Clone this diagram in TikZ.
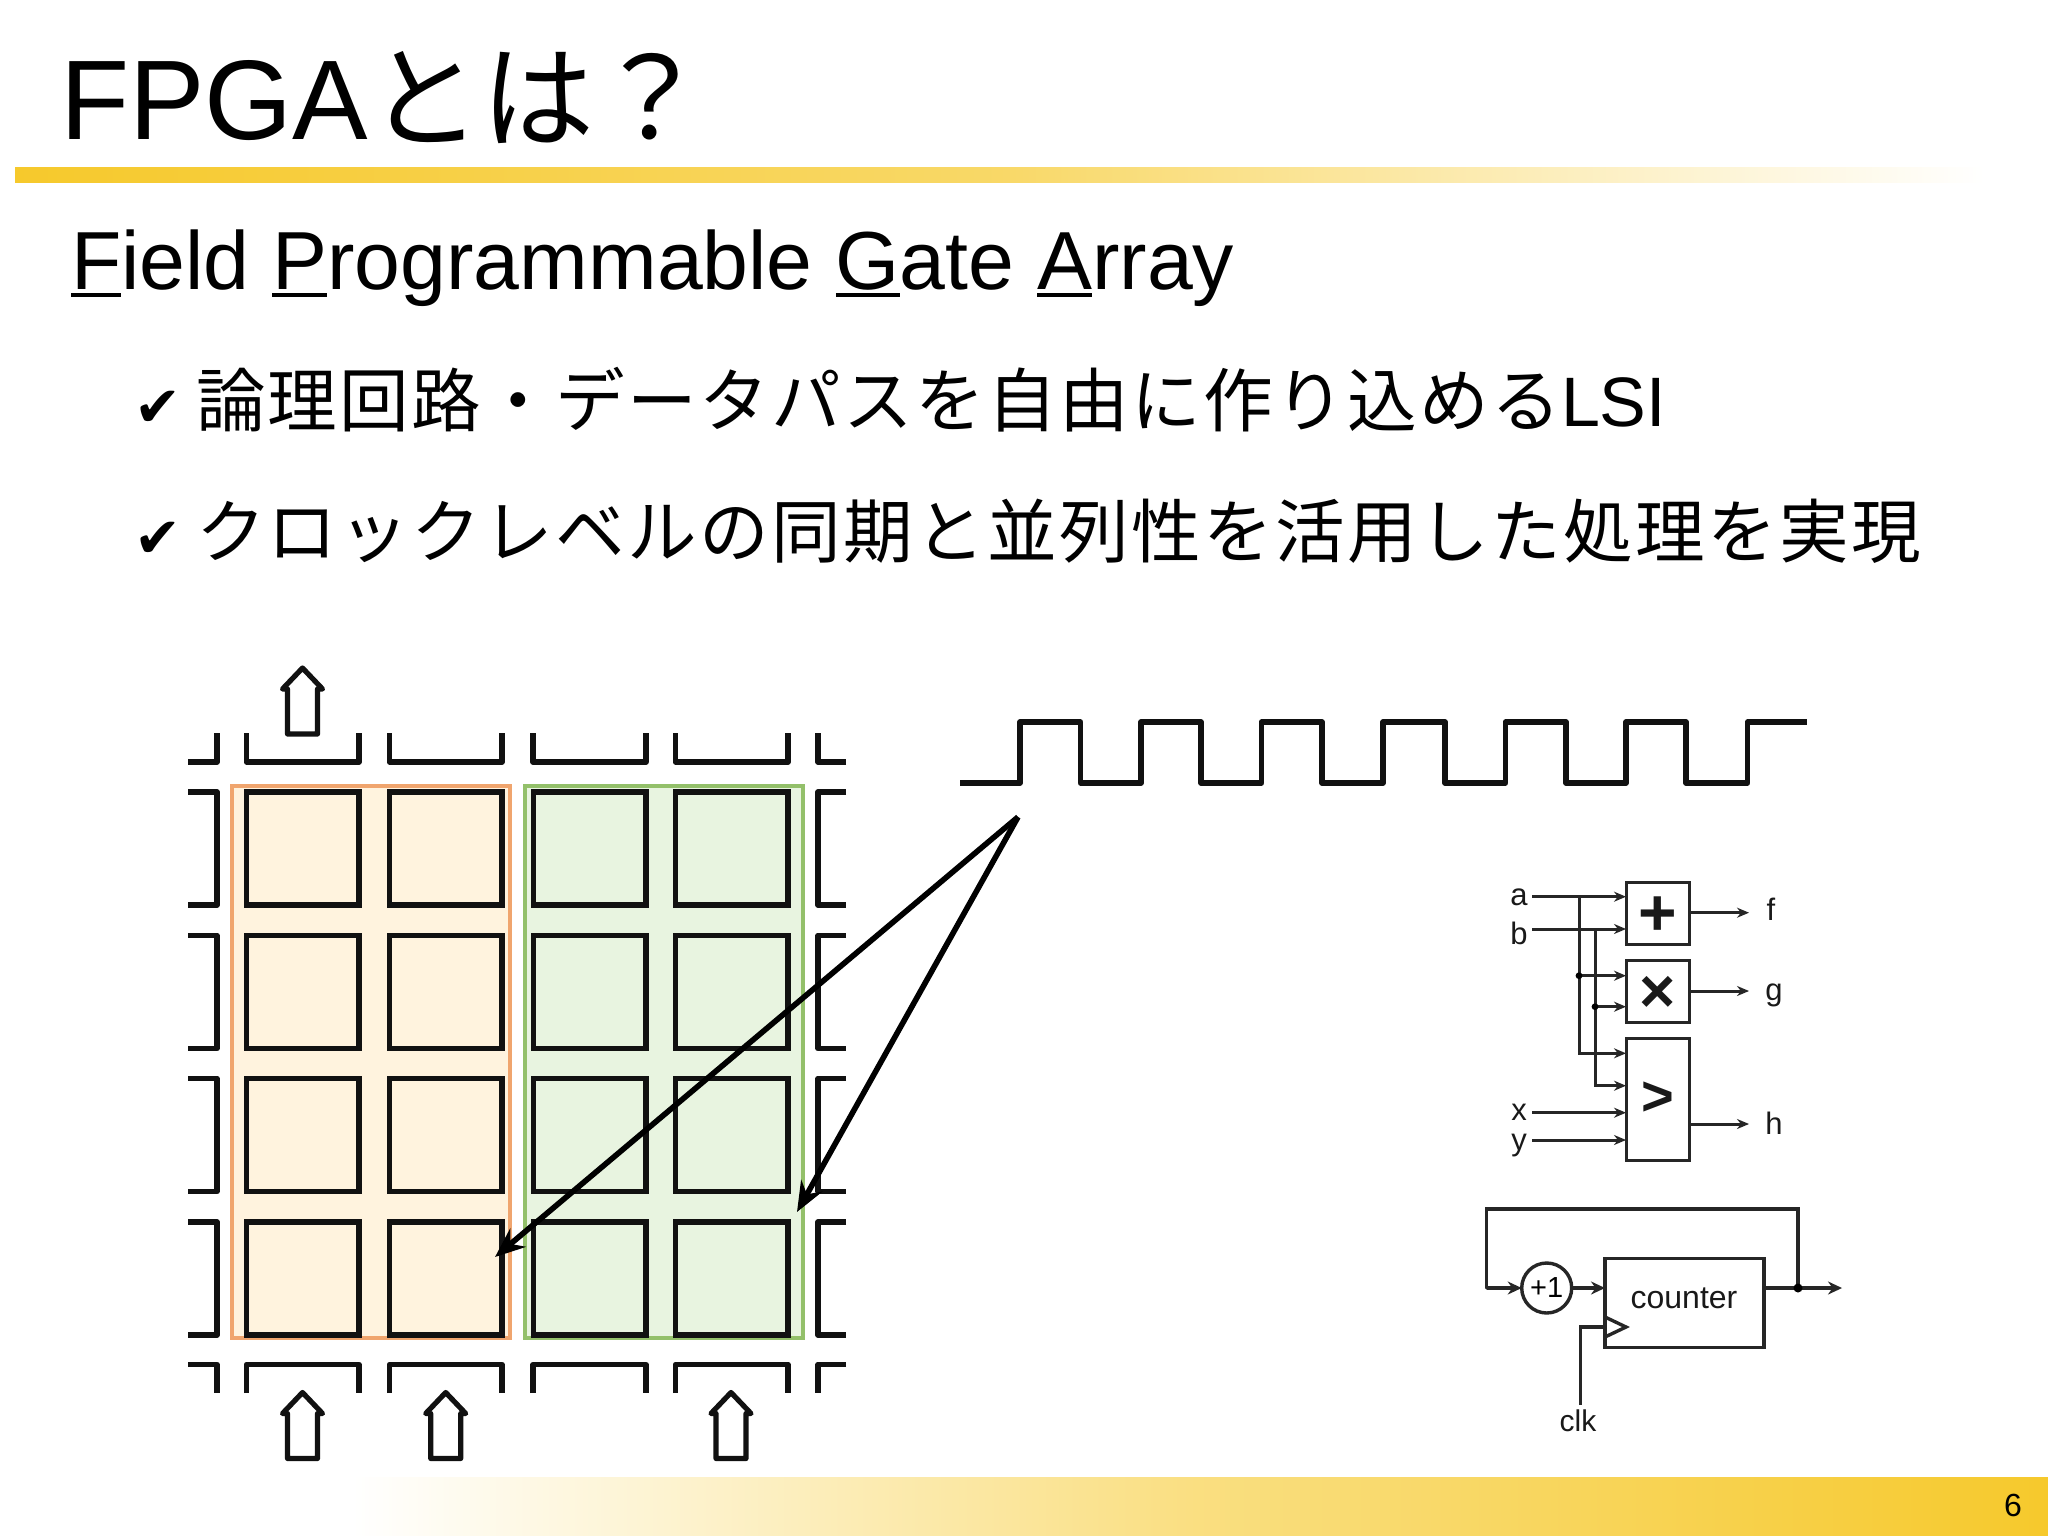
\documentclass[tikz,border=0pt]{standalone}
\usepackage{fontspec}
\setmainfont{Liberation Sans}
\newfontfamily\cjk{Noto Sans CJK JP}
\newfontfamily\cjkb[LetterSpace=3.4]{Noto Sans CJK JP}
\newfontfamily\symf{DejaVu Sans}
\usetikzlibrary{arrows.meta,calc}
\definecolor{gold}{HTML}{F6C92C}
\definecolor{ink}{HTML}{111111}
\newcommand{\fsz}[1]{\fontsize{#1pt}{#1pt}\selectfont}
\newcommand{\ulc}[1]{\setbox0\hbox{#1}\rlap{\rule[-3.9pt]{\wd0}{2pt}}#1}
\newcommand{\blockup}[2]{\draw[blockarrow] (#1,#2) -- ++(20,21) -- ++(-5,0) -- ++(0,45) -- ++(-30,0) -- ++(0,-45) -- ++(-5,0) -- cycle;}
\tikzset{
  txt/.style={anchor=base west,inner sep=0pt,outer sep=0pt,text=black},
  cell/.style={draw=ink,line width=2.75pt,rectangle,inner sep=0pt,outer sep=0pt,minimum width=56.25pt,minimum height=56.5pt},
  gridline/.style={draw=ink,line width=2.75pt,line join=round},
  blockarrow/.style={draw=ink,fill=white,line width=2.6pt,line join=round},
  pointer/.style={draw=black,line width=2.8pt,-{Stealth[length=15pt,width=12pt]}},
  wave/.style={draw=ink,line width=2.75pt,line join=round},
  gate/.style={draw=black!85,fill=white,line width=1.5pt,rectangle,inner sep=0pt,outer sep=0pt},
  wire/.style={draw=black!85,line width=1.5pt},
  wirea/.style={wire,-{Stealth[length=6pt,width=5pt]}},
  ctr/.style={draw=black!85,fill=white,line width=1.7pt,inner sep=0pt,outer sep=0pt},
  ctrw/.style={draw=black!85,line width=1.7pt},
  ctra/.style={ctrw,-{Stealth[length=7pt,width=6.5pt]}},
  lab/.style={inner sep=0pt,outer sep=0pt,text=black!90},
  jdot/.style={circle,fill=black,inner sep=0pt,minimum size=3.4pt},
}
\begin{document}
\begin{tikzpicture}[x=0.5pt,y=-0.5pt]
\useasboundingbox (0,0) rectangle (2048,1535);
\fill[white] (0,0) rectangle (2048,1535);
% decorative bars
\shade[left color=gold,right color=white,middle color=gold!72!white] (15,168) rectangle (1985,183);
\shade[left color=white,right color=gold,middle color=gold!60!white] (352,1477) rectangle (2048,1535);
% texts
\node[txt] (title) at (60,140) {\fsz{56.6}FPGA{\cjk とは？}};
\node[txt] (sub) at (71,289.5) {\fsz{41.2}\ulc{F}ield \ulc{P}rogrammable \ulc{G}ate \ulc{A}rray};
\node[txt] (c1) at (134,426) {\fsz{28}\symf ✔};
\node[txt] (l1) at (196,426) {\fsz{34.8}{\cjkb 論理回路・データパスを自由に作り込める}\fsz{35}LSI};
\node[txt] (c2) at (134,557) {\fsz{28}\symf ✔};
\node[txt] (l2) at (196,557) {\fsz{34.8}\cjkb クロックレベルの同期と並列性を活用した処理を実現};
\node[anchor=center,inner sep=0pt] (pg) at (2013,1505) {\fsz{16}6};
% groups
\path[draw={rgb,255:red,240;green,165;blue,110},fill={rgb,255:red,255;green,243;blue,222},line width=1.6pt] (232,786) rectangle (510,1338);
\path[draw={rgb,255:red,147;green,192;blue,106},fill={rgb,255:red,232;green,244;blue,224},line width=1.6pt] (525,786) rectangle (803,1338);
% cells
\foreach \cx/\cn in {302.7/a,445.7/b,589.5/c,731.7/d}{
  \foreach \cy/\rn in {848.5/1,992/2,1135/3,1278.5/4}{
    \node[cell] (cell\cn\rn) at (\cx,\cy) {};
  }
  \draw[gridline] (\cx-56.3,733) -- (\cx-56.3,762) -- (\cx+56.3,762) -- (\cx+56.3,733);
  \draw[gridline] (\cx-56.3,1393) -- (\cx-56.3,1364.5) -- (\cx+56.3,1364.5) -- (\cx+56.3,1393);
}
\draw[gridline] (188,762) -- (217,762) -- (217,733);
\draw[gridline] (846,762) -- (818,762) -- (818,733);
\draw[gridline] (188,1364.5) -- (217,1364.5) -- (217,1393);
\draw[gridline] (846,1364.5) -- (818,1364.5) -- (818,1393);
\foreach \t in {792,935.5,1078.5,1222}{
  \draw[gridline] (188,\t) -- (217,\t) -- (217,\t+113) -- (188,\t+113);
  \draw[gridline] (846,\t) -- (818,\t) -- (818,\t+113) -- (846,\t+113);
}
% block arrows
\blockup{302.5}{668}
\blockup{302.5}{1392.5}
\blockup{445.7}{1392.5}
\blockup{731}{1392.5}
% clock
\draw[wave] (960,783) -- (1020,783) -- (1020,722) -- (1080.5,722) -- (1080.5,783) -- (1141,783) -- (1141,722) -- (1201,722) -- (1201,783) -- (1261.5,783) -- (1261.5,722) -- (1322,722) -- (1322,783) -- (1383,783) -- (1383,722) -- (1445,722) -- (1445,783) -- (1505.5,783) -- (1505.5,722) -- (1566,722) -- (1566,783) -- (1626,783) -- (1626,722) -- (1686,722) -- (1686,783) -- (1747.5,783) -- (1747.5,722) -- (1807,722);
% pointers
\coordinate (psrc) at (1018,817);
\coordinate (pa) at (495,1257);
\coordinate (pb) at (797,1212);
\draw[pointer] (psrc) -- (pa);
\draw[pointer] (psrc) -- (pb);
% combinational circuit
\node[gate,minimum width=31.5pt,minimum height=31pt] (add) at (1657.5,913) {};
\node[gate,minimum width=31.5pt,minimum height=31pt] (mul) at (1657.5,991.5) {};
\node[gate,minimum width=31.5pt,minimum height=61pt] (cmp) at (1657.5,1099) {};
\node[lab] (tadd) at (1657.5,916) {\fontsize{33}{33}\bfseries\selectfont +};
\node[lab] (tmul) at (1657.5,994) {\fontsize{31}{31}\bfseries\selectfont ×};
\node[lab] (tcmp) at (1657.5,1099) {\fontsize{28}{28}\bfseries\selectfont >};
\node[lab] (la) at (1519,897) {\fsz{15.5}a};
\node[lab] (lb) at (1519,933) {\fsz{15.5}b};
\node[lab] (lx) at (1519,1112) {\fsz{15.5}x};
\node[lab] (ly) at (1519,1146) {\fsz{15.5}y};
\node[lab] (lf) at (1771,909) {\fsz{15.5}f};
\node[lab] (lg) at (1774,995) {\fsz{15.5}g};
\node[lab] (lh) at (1774,1123) {\fsz{15.5}h};
\coordinate (ia) at (1532,896.7);
\coordinate (ib) at (1532,929);
\coordinate (ix) at (1532,1112.7);
\coordinate (iy) at (1532,1140);
\coordinate (ja) at (1579,896.7);
\coordinate (jb) at (1595,929);
\coordinate (jm1) at (1579,975.7);
\coordinate (jm2) at (1595,1006.7);
\coordinate (jc1) at (1579,1053.3);
\coordinate (jc2) at (1595,1085.7);
\coordinate (of) at (1749,912.7);
\coordinate (og) at (1749,991);
\coordinate (oh) at (1749,1124);
\draw[wirea] (ia) -- (add.west |- ia);
\draw[wirea] (ib) -- (add.west |- ib);
\draw[wirea] (ja) -- (jc1) -- (cmp.west |- jc1);
\draw[wirea] (jb) -- (jc2) -- (cmp.west |- jc2);
\draw[wirea] (jm1) -- (mul.west |- jm1);
\draw[wirea] (jm2) -- (mul.west |- jm2);
\draw[wirea] (ix) -- (cmp.west |- ix);
\draw[wirea] (iy) -- (cmp.west |- iy);
\draw[wirea] (add.east |- of) -- (of);
\draw[wirea] (mul.east |- og) -- (og);
\draw[wirea] (cmp.east |- oh) -- (oh);
\node[jdot] (d1) at (jm1) {};
\node[jdot] (d2) at (jm2) {};
% counter circuit
\node[ctr,rectangle,minimum width=79.5pt,minimum height=44.5pt] (counter) at (1684.5,1302.8) {};
\node[lab] (ctext) at (1684,1298) {\fsz{16}counter};
\node[ctr,circle,minimum size=25pt] (inc) at (1546.7,1288) {\fsz{14.5}+1};
\coordinate (jo) at (1798,1288);
\coordinate (oc) at (1842,1288);
\coordinate (fb1) at (1798,1209);
\coordinate (fb2) at (1486.7,1209);
\coordinate (fb3) at (1486.7,1288);
\coordinate (ck0) at (1580.7,1405);
\coordinate (ck1) at (1580.7,1327);
\coordinate (ck2) at (1605,1327);
\draw[ctrw,line cap=round] (jo) -- (fb1) -- (fb2) -- (fb3);
\draw[ctra] (fb3) -- (inc.west);
\draw[ctra] (inc.east) -- (counter.west |- inc.east);
\draw[ctra] (counter.east |- jo) -- (oc);
\draw[ctrw] (ck0) -- (ck1) -- (ck2);
\draw[ctrw,line join=miter] (1605,1317) -- (1626,1327) -- (1605,1337);
\node[jdot,minimum size=4.5pt] (d3) at (jo) {};
\node[lab] (lclk) at (1578,1421) {\fsz{15}clk};
\end{tikzpicture}
\end{document}
